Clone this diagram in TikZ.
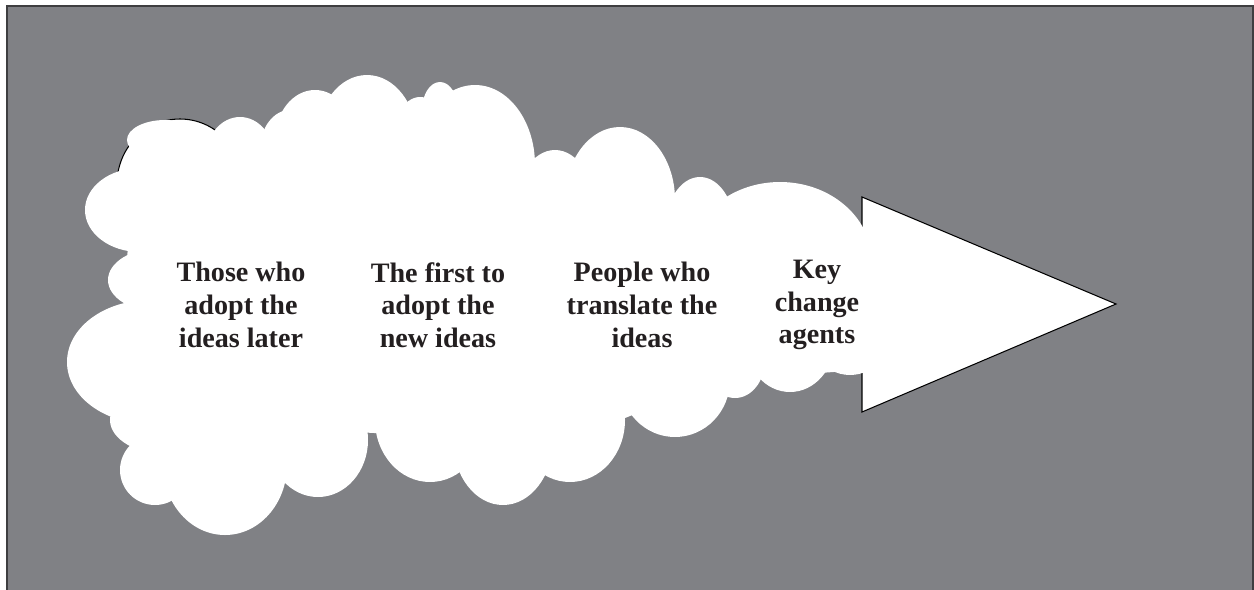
\documentclass[tikz,border=0pt]{standalone}
\usepackage{fontspec}
\setmainfont{Liberation Serif}
\usetikzlibrary{positioning}
\definecolor{slate}{RGB}{128,129,133}
\definecolor{rim}{RGB}{62,62,64}
\definecolor{ink}{RGB}{35,31,32}
\tikzset{
  puff/.style={fill=white, draw=none},
  group/.style={align=center, text=ink, font=\bfseries\fontsize{16}{18.6}\selectfont}
}

\begin{document}
\begin{tikzpicture}[x=0.02cm, y=-0.02cm]
    \useasboundingbox (0,0) rectangle (1254,589);
    \draw[rim, fill=slate, line width=1.1pt] (7,6) rectangle (1253,610);

    % the arrow head
    \coordinate (headtop) at (862,197);
    \coordinate (tip) at (1116,304);
    \coordinate (headbot) at (862,412);
    \draw[fill=white, line width=0.6pt] (headtop) -- (tip) -- (headbot) -- cycle;

    % the cloud
    \draw[fill=white, line width=0.6pt] (180,184) circle [x radius=63, y radius=65];
    \fill[white] (130,210) -- (200,160) -- (300,140) -- (400,120) -- (470,140)
        -- (540,190) -- (620,190) -- (700,250) -- (862,240) -- (862,370)
        -- (720,380) -- (620,420) -- (500,440) -- (320,430) -- (200,440)
        -- (120,380) -- cycle;
    \foreach \cx/\cy/\rx/\ry in {165/140/38/20, 140/210/55/42, 160/280/52/32,
        150/362/83/62, 170/420/60/35, 155/470/35/35, 225/465/62/70,
        318/440/50/57, 430/420/55/62, 503/440/50/65, 570/420/55/62,
        675/380/55/57, 735/360/30/38, 790/340/45/52, 850/310/50/65,
        240/160/35/43, 290/150/30/40, 315/140/40/50, 367/140/50/65,
        420/150/30/53, 440/110/18/28, 475/165/60/80, 555/210/40/60,
        620/200/55/73, 700/230/35/53, 780/262/92/80}
      \path[puff] (\cx,\cy) circle [x radius=\rx, y radius=\ry];

    \node[group] (later) at (241,305) {Those who\\adopt the\\ideas later};
    \node[group] (first) at (438,305) {The first to\\adopt the\\new ideas};
    \node[group] (translate) at (642,305) {People who\\translate the\\ideas};
    \node[group] (agents) at (817,305) {Key\\change\\agents};
\end{tikzpicture}
\end{document}
